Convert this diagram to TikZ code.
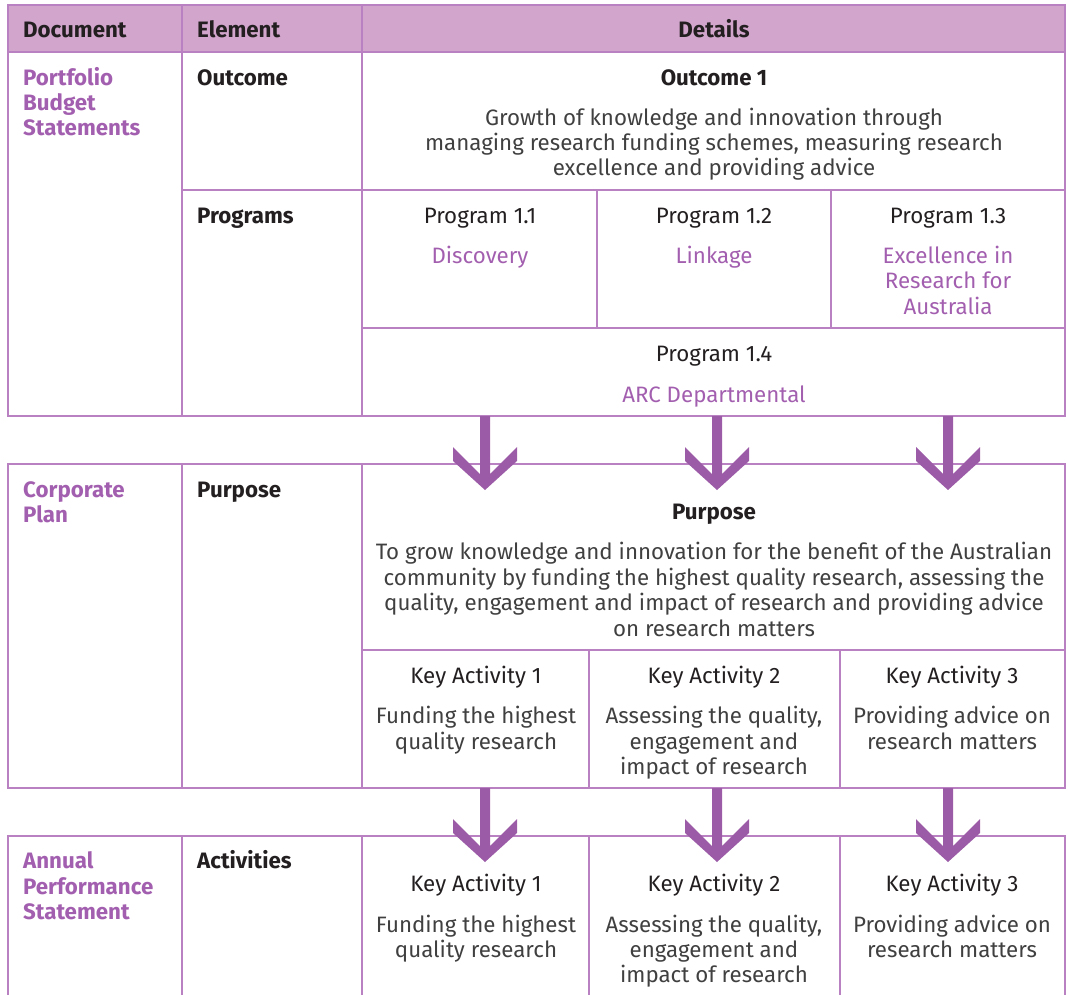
\documentclass[tikz,border=0pt]{standalone}
\usepackage{fontspec}
\setmainfont{Fira Sans}
\newcommand\regf{\normalfont}
\newcommand\fsz{\fontsize{22.3}{25}\selectfont}
\definecolor{headfill}{HTML}{D1A5CC}
\definecolor{rulec}{HTML}{B981C2}
\definecolor{purp}{HTML}{A35FAF}
\definecolor{arrowc}{HTML}{9C5BA6}
\definecolor{bodyc}{HTML}{404040}
\definecolor{headc}{HTML}{231F20}
\begin{document}
\begin{tikzpicture}[x=1pt,y=-1pt,
  rule/.style={draw=rulec, line width=1.4pt},
  body/.style={inner sep=0pt, anchor=base, yshift=-1pt, font=\fsz, text=bodyc},
  sub/.style={body, font=\fsz\regf, text=headc},
  ptxt/.style={body, font=\fsz\regf, text=purp},
  hd/.style={body, font=\fsz\bfseries, text=headc},
  hdl/.style={hd, anchor=base west},
  doc/.style={body, anchor=base west, font=\fsz\bfseries, text=purp},
  pics/downarrow/.style={code={
    \fill[arrowc] (-32,31) -- (-5,58) -- (-5,0) -- (5,0) -- (5,58) -- (32,31)
      -- (32,45) -- (0,74) -- (-32,45) -- cycle;}}
]
\useasboundingbox (0,0) rectangle (1068,994);
% ---------- header ----------
\fill[headfill] (8,5) rectangle (1065,52);
\draw[rule] (8,5) rectangle (1065,52);
\draw[rule] (182,5) -- (182,52) (362,5) -- (362,52);
\node[hdl] (hdoc) at (23,36) {Document};
\node[hdl] (hel) at (197,36) {Element};
\node[hd] (hdet) at (714,36) {Details};
% ---------- section 1 ----------
\draw[rule] (8,52) rectangle (1065,416);
\draw[rule] (182,52) -- (182,416) (362,52) -- (362,416);
\draw[rule] (182,190) -- (1065,190);
\draw[rule] (362,328) -- (1065,328);
\draw[rule] (597,190) -- (597,328) (831,190) -- (831,328);
\node[doc] (pbs1) at (23,84) {Portfolio};
\node[doc] (pbs2) at (23,109) {Budget};
\node[doc] (pbs3) at (23,134) {Statements};
\node[hdl] (eout) at (197,84) {Outcome};
\node[hdl] (eprog) at (197,222) {Programs};
\node[hd] (out1) at (714,84) {Outcome 1};
\node[body] (ob1) at (714,124) {Growth of knowledge and innovation through};
\node[body] (ob2) at (714,149) {managing research funding schemes, measuring research};
\node[body] (ob3) at (714,174) {excellence and providing advice};
\node[sub] (p11) at (480,222) {Program 1.1};
\node[ptxt] (p11n) at (480,262) {Discovery};
\node[sub] (p12) at (714,222) {Program 1.2};
\node[ptxt] (p12n) at (714,262) {Linkage};
\node[sub] (p13) at (948,222) {Program 1.3};
\node[ptxt] (p13a) at (948,262) {Excellence in};
\node[ptxt] (p13b) at (948,287) {Research for};
\node[ptxt] (p13c) at (948,313) {Australia};
\node[sub] (p14) at (714,360) {Program 1.4};
\node[ptxt] (p14n) at (714,401) {ARC Departmental};
% ---------- section 2 ----------
\draw[rule] (8,464) rectangle (1065,788);
\draw[rule] (182,464) -- (182,788) (362,464) -- (362,788);
\draw[rule] (362,650) -- (1065,650);
\draw[rule] (589,650) -- (589,788) (840,650) -- (840,788);
\node[doc] (cp1) at (23,496) {Corporate};
\node[doc] (cp2) at (23,521) {Plan};
\node[hdl] (epur) at (197,496) {Purpose};
\node[hd] (pur) at (714,518) {Purpose};
\node[body] (pb1) at (714,558) {To grow knowledge and innovation for the benefit of the Australian};
\node[body] (pb2) at (714,584) {community by funding the highest quality research, assessing the};
\node[body] (pb3) at (714,609) {quality, engagement and impact of research and providing advice};
\node[body] (pb4) at (714,635) {on research matters};
\node[sub] (ka1) at (476,682) {Key Activity 1};
\node[body] (ka1a) at (476,722) {Funding the highest};
\node[body] (ka1b) at (476,748) {quality research};
\node[sub] (ka2) at (714,682) {Key Activity 2};
\node[body] (ka2a) at (714,722) {Assessing the quality,};
\node[body] (ka2b) at (714,748) {engagement and};
\node[body] (ka2c) at (714,773) {impact of research};
\node[sub] (ka3) at (952,682) {Key Activity 3};
\node[body] (ka3a) at (952,722) {Providing advice on};
\node[body] (ka3b) at (952,748) {research matters};
% ---------- section 3 ----------
\draw[rule] (8,1000) -- (8,836) -- (1065,836) -- (1065,1000);
\draw[rule] (182,836) -- (182,1000) (362,836) -- (362,1000);
\draw[rule] (589,836) -- (589,1000) (840,836) -- (840,1000);
\node[doc] (aps1) at (23,867) {Annual};
\node[doc] (aps2) at (23,893) {Performance};
\node[doc] (aps3) at (23,918) {Statement};
\node[hdl] (eact) at (197,867) {Activities};
\node[sub] (kb1) at (476,890) {Key Activity 1};
\node[body] (kb1a) at (476,931) {Funding the highest};
\node[body] (kb1b) at (476,956) {quality research};
\node[sub] (kb2) at (714,890) {Key Activity 2};
\node[body] (kb2a) at (714,931) {Assessing the quality,};
\node[body] (kb2b) at (714,956) {engagement and};
\node[body] (kb2c) at (714,981) {impact of research};
\node[sub] (kb3) at (952,890) {Key Activity 3};
\node[body] (kb3a) at (952,931) {Providing advice on};
\node[body] (kb3b) at (952,956) {research matters};
% ---------- arrows ----------
\coordinate (a1) at (485,416);
\coordinate (a2) at (717,416);
\coordinate (a3) at (948,416);
\coordinate (b1) at (485,788);
\coordinate (b2) at (717,788);
\coordinate (b3) at (948,788);
\foreach \c in {a1,a2,a3,b1,b2,b3} { \pic at (\c) {downarrow}; }
\end{tikzpicture}
\end{document}
